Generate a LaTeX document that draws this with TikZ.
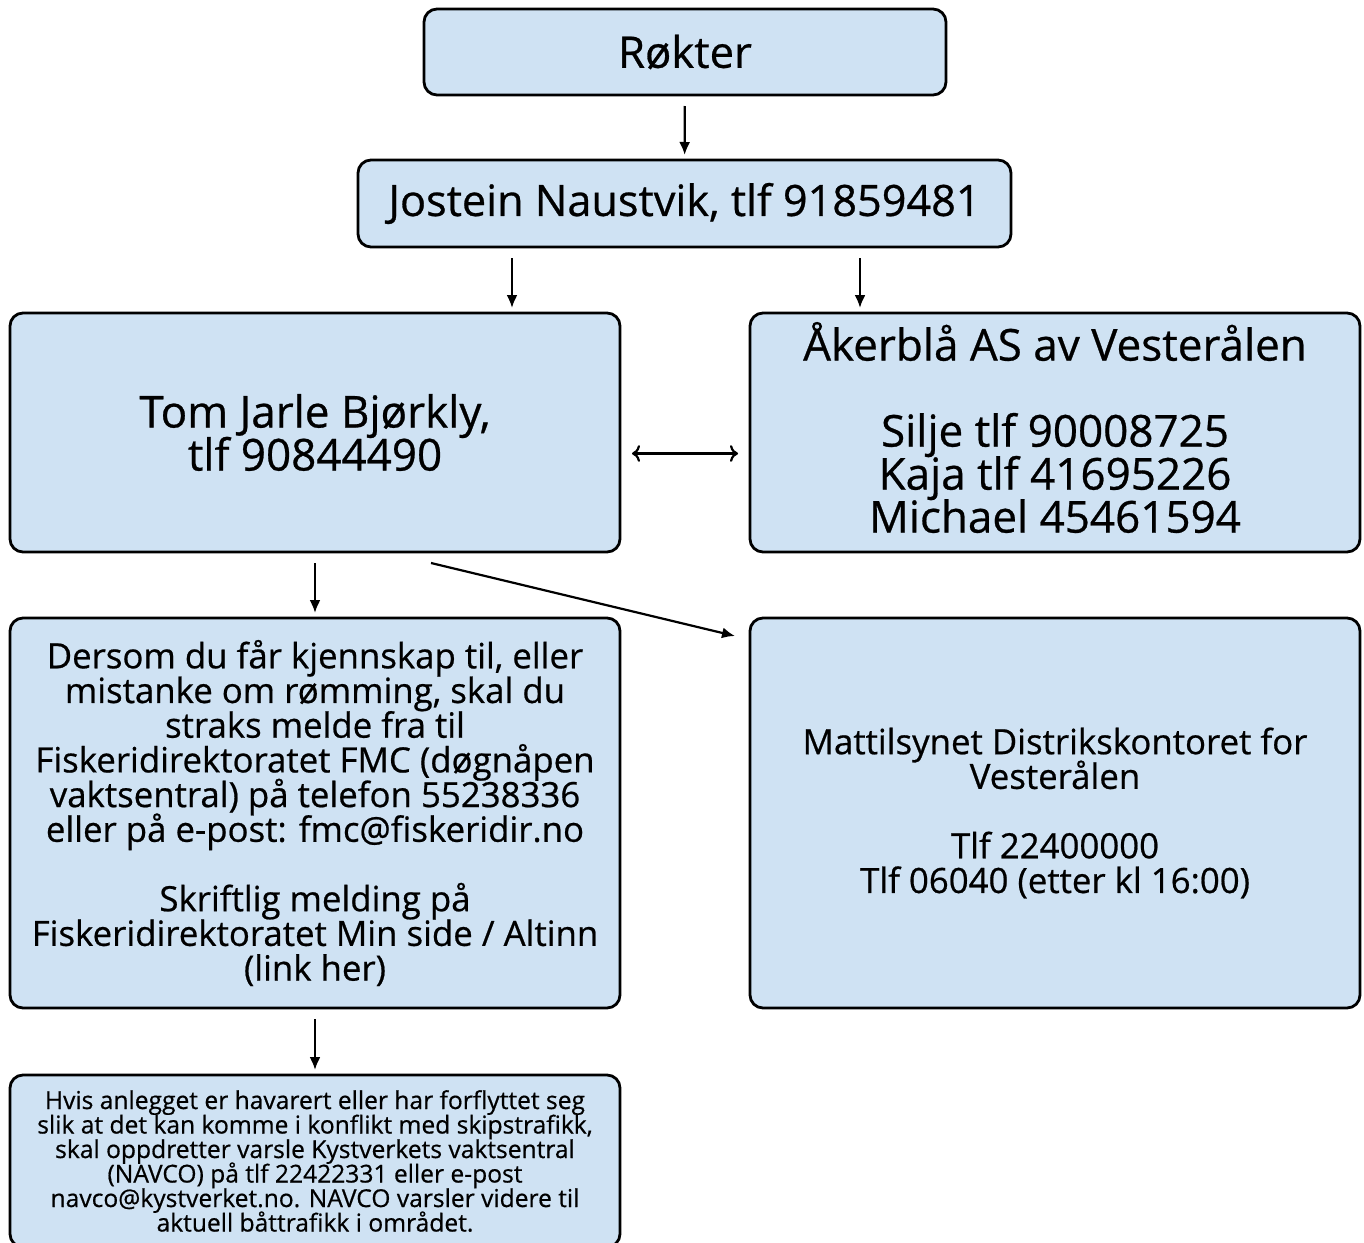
\documentclass[tikz,border=0pt]{standalone}
\usepackage{fontspec}
\setmainfont{Open Sans}[FakeBold=0.6]
\usepackage{xcolor}
\usetikzlibrary{positioning,calc,arrows.meta}
\definecolor{boxblue}{HTML}{CFE2F3}
\lineskiplimit=-\maxdimen

\begin{document}
\begin{tikzpicture}[x=0.5pt, y=-0.5pt,
		box/.style={draw, fill=boxblue, rounded corners=6.5pt, line width=1.4pt,
			align=center, inner sep=0pt, outer sep=2.5pt, minimum width=305pt},
		link/.style={-{Latex[length=6.5pt,width=5.5pt]}, line width=1.1pt, shorten <=3pt},
		big/.style={font={\fontsize{22}{21.5}\selectfont}},
		mid/.style={font={\fontsize{17.4}{17.35}\selectfont}},
		small/.style={font={\fontsize{12.3}{12.25}\selectfont}}]
\useasboundingbox (0,0) rectangle (1364,1242);

% top of the chain
\node[box, minimum width=261pt, minimum height=43pt, font={\fontsize{21.8}{23}\selectfont}] (rokter) at (685,52) {Røkter};
\node[box, minimum width=326.5pt, minimum height=43.5pt, font={\fontsize{21.6}{24}\selectfont}] (jostein) at (684.5,203.5) {Jostein Naustvik, tlf 91859481};

% second row
\node[box, big, minimum height=119.5pt] (tom) at (315,432.5) {Tom Jarle Bjørkly,\\tlf 90844490};
\node[box, minimum height=119.5pt] (akerbla) at (1055,432.5) {};
\node[big, align=center, inner sep=0pt] (akerblatext) at ($(akerbla)+(0,-5)$)
	{Åkerblå AS av Vesterålen\\[21.5pt]Silje tlf 90008725\\Kaja tlf 41695226\\Michael 45461594};

% third row
\node[box, mid, minimum height=195pt] (fmc) at (315,813)
	{Dersom du får kjennskap til, eller\\mistanke om rømming, skal du\\straks melde fra til\\Fiskeridirektoratet FMC (døgnåpen\\vaktsentral) på telefon 55238336\\eller på e-post: fmc@fiskeridir.no\\[17.35pt]Skriftlig melding på\\Fiskeridirektoratet Min side / Altinn\\(link her)};
\node[box, mid, minimum height=195pt] (mattilsynet) at (1055,813)
	{Mattilsynet Distrikskontoret for\\Vesterålen\\[17.35pt]Tlf 22400000\\Tlf 06040 (etter kl 16:00)};

% bottom
\node[box, small, minimum height=86pt] (navco) at (315,1161)
	{Hvis anlegget er havarert eller har forflyttet seg\\slik at det kan komme i konflikt med skipstrafikk,\\skal oppdretter varsle Kystverkets vaktsentral\\(NAVCO) på tlf 22422331 eller e-post\\navco@kystverket.no. NAVCO varsler videre til\\aktuell båttrafikk i området.};

% arrows
\draw[link] (rokter) -- (jostein);
\draw[link] (jostein.south -| 512,0) -- (tom.north -| 512,0);
\draw[link] (jostein.south -| 860,0) -- (akerbla.north -| 860,0);
\draw[link, <->, shorten >=3.5pt, shorten <=3.5pt] ($(tom.east)+(0,21)$) -- ($(akerbla.west)+(0,21)$);
\draw[link] (tom) -- (fmc);
\draw[link, shorten <=0pt] ($(tom.south)+(116,6)$) -- ($(mattilsynet.north west)+(-10,23)$);
\draw[link] (fmc) -- (navco);
\end{tikzpicture}
\end{document}
